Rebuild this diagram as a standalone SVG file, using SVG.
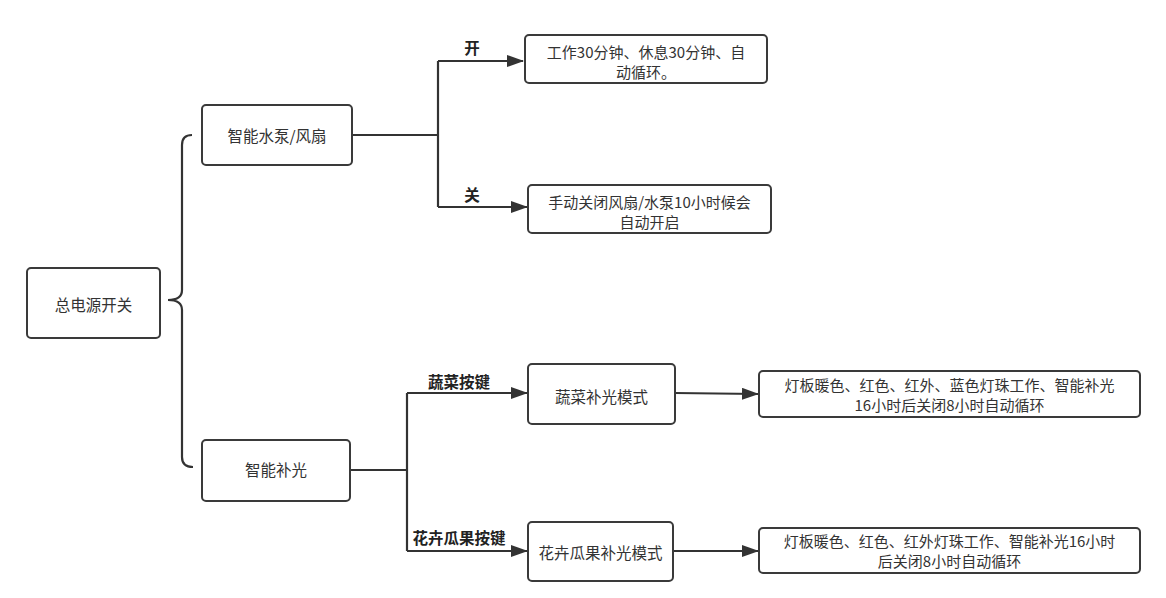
<svg xmlns="http://www.w3.org/2000/svg" width="1166" height="598" viewBox="0 0 1166 598">
<style>
.box{fill:#fff;stroke:#3a3a3a;stroke-width:2}
.t{font-family:"Noto Sans CJK SC","Liberation Sans",sans-serif;font-size:15.5px;fill:#333;text-anchor:middle}
.s{font-size:15px}
.b{font-weight:bold;fill:#222}
.c{fill:none;stroke:#333;stroke-width:2.2}
</style>
<defs>
<marker id="ah" markerWidth="17" markerHeight="12" refX="16" refY="6" orient="auto" markerUnits="userSpaceOnUse">
<path d="M0,0 L17,6 L0,12 Z" fill="#333"/>
</marker>
</defs>
<rect width="1166" height="598" fill="#fff"/>
<g id="connectors">
<path class="c" d="M192,135 Q182,135 182,145 L182,290 Q182,300 168,300 Q182,300 182,310 L182,457 Q182,467 193,467"/>
<path class="c" d="M352,135 L438,135"/>
<path class="c" d="M438,61 L438,207"/>
<path class="c" d="M438,61 L523,61" marker-end="url(#ah)"/>
<path class="c" d="M438,207 L527,207" marker-end="url(#ah)"/>
<path class="c" d="M350,470 L407,470"/>
<path class="c" d="M407,393 L407,551"/>
<path class="c" d="M407,393 L527,393" marker-end="url(#ah)"/>
<path class="c" d="M407,551 L527,551" marker-end="url(#ah)"/>
<path class="c" d="M675,393 L758,394" marker-end="url(#ah)"/>
<path class="c" d="M673,551 L758,551" marker-end="url(#ah)"/>
<text class="t b" x="472" y="53.5">开</text>
<text class="t b" x="472" y="200.5">关</text>
<text class="t b" x="459" y="387.5">蔬菜按键</text>
<text class="t b" x="459" y="543.5">花卉瓜果按键</text>
</g>
<g id="n-root"><rect class="box" x="27" y="268" width="133" height="70" rx="4"/><text class="t" x="93.5" y="310.5">总电源开关</text></g>
<g id="n-pump"><rect class="box" x="202" y="105" width="150" height="60" rx="4"/><text class="t" x="277" y="141.5">智能水泵/风扇</text></g>
<g id="n-light"><rect class="box" x="202" y="440" width="148" height="61" rx="4"/><text class="t" x="276" y="475.5">智能补光</text></g>
<g id="n-on"><rect class="box" x="525" y="35" width="242" height="48" rx="4"/><text class="t s" x="646" y="58">工作30分钟、休息30分钟、自</text><text class="t s" x="646" y="78">动循环。</text></g>
<g id="n-off"><rect class="box" x="528" y="185" width="243" height="48" rx="4"/><text class="t s" x="649.5" y="208">手动关闭风扇/水泵10小时候会</text><text class="t s" x="649.5" y="228">自动开启</text></g>
<g id="n-veg"><rect class="box" x="528" y="364" width="147" height="60" rx="4"/><text class="t" x="601.5" y="402.5">蔬菜补光模式</text></g>
<g id="n-flower"><rect class="box" x="528" y="522" width="145" height="59" rx="4"/><text class="t" x="600.5" y="558.5">花卉瓜果补光模式</text></g>
<g id="n-veg-desc"><rect class="box" x="759" y="371" width="381" height="46" rx="4"/><text class="t s" x="949.5" y="390.5">灯板暖色、红色、红外、蓝色灯珠工作、智能补光</text><text class="t s" x="949.5" y="410.5">16小时后关闭8小时自动循环</text></g>
<g id="n-flower-desc"><rect class="box" x="759" y="528" width="381" height="45" rx="4"/><text class="t s" x="949.5" y="547">灯板暖色、红色、红外灯珠工作、智能补光16小时</text><text class="t s" x="949.5" y="567">后关闭8小时自动循环</text></g>
</svg>
